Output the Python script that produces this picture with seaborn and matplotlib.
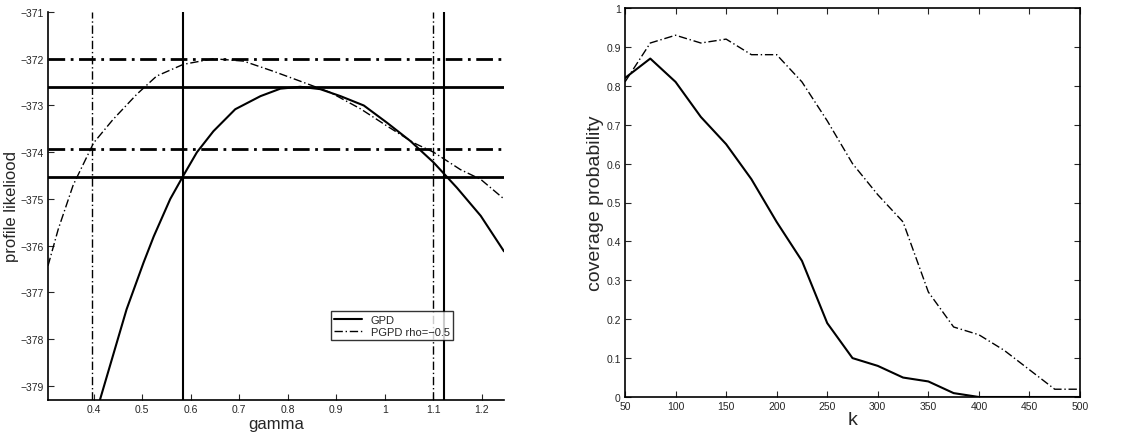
import matplotlib
matplotlib.use("Agg")
import matplotlib.pyplot as plt
import seaborn as sns

# left panel: profile likelihood
gpd_gamma = [0.413, 0.468, 0.503, 0.524, 0.558, 0.585, 0.613, 0.647, 0.692, 0.744, 0.785, 0.826,
             0.867, 0.909, 0.957, 1.005, 1.053, 1.101, 1.149, 1.198, 1.246]
gpd_lik = [-379.3, -377.36, -376.36, -375.8, -375.0, -374.5, -374.0, -373.55, -373.08, -372.8, -372.64,
           -372.6, -372.65, -372.8, -373.0, -373.37, -373.76, -374.22, -374.76, -375.36, -376.12]
pgpd_gamma = [0.306, 0.327, 0.358, 0.40, 0.44, 0.489, 0.53, 0.585, 0.647, 0.709, 0.771, 0.826,
              0.888, 0.95, 1.005, 1.06, 1.101, 1.156, 1.198, 1.246]
pgpd_lik = [-376.43, -375.65, -374.7, -373.8, -373.3, -372.76, -372.37, -372.12, -372.0, -372.05,
            -372.27, -372.48, -372.72, -373.07, -373.44, -373.8, -374.0, -374.37, -374.58, -375.0]
gpd_levels = [-372.6, -374.52]
pgpd_levels = [-372.0, -373.94]
gpd_ci = [0.584, 1.123]
pgpd_ci = [0.397, 1.10]

# right panel: coverage probability
k = [50, 75, 100, 125, 150, 175, 200, 225, 250, 275, 300, 325, 350, 375, 400, 425, 450, 475, 500]
cov_gpd = [0.82, 0.87, 0.81, 0.72, 0.65, 0.56, 0.45, 0.35, 0.19, 0.10, 0.08, 0.05, 0.04, 0.01, 0.0,
           0.0, 0.0, 0.0, 0.0]
cov_pgpd = [0.81, 0.91, 0.93, 0.91, 0.92, 0.88, 0.88, 0.81, 0.71, 0.60, 0.52, 0.45, 0.27, 0.18, 0.16,
            0.12, 0.07, 0.02, 0.02]

sns.set_style("white")
plt.rcParams['font.family'] = ['Liberation Sans', 'DejaVu Sans']

fig = plt.figure(figsize=(11.35, 4.39), dpi=100)
ax1 = fig.add_axes([48 / 1135, 38 / 439, 456 / 1135, 388 / 439])
ax2 = fig.add_axes([625 / 1135, 41 / 439, 455 / 1135, 389 / 439])

dash = (0, (6, 2, 1, 2))
sns.lineplot(x=gpd_gamma, y=gpd_lik, ax=ax1, color="black", lw=1.5, label="GPD", sort=False)
sns.lineplot(x=pgpd_gamma, y=pgpd_lik, ax=ax1, color="black", lw=1.0, linestyle=dash,
             label="PGPD rho=\u22120.5", sort=False)
for v in gpd_levels:
    ax1.axhline(v, color="black", lw=2)
for v in pgpd_levels:
    ax1.axhline(v, color="black", lw=2, linestyle=dash)
for v in gpd_ci:
    ax1.axvline(v, color="black", lw=1.5)
for v in pgpd_ci:
    ax1.axvline(v, color="black", lw=1.0, linestyle=dash)
ax1.set_xlim(0.306, 1.246)
ax1.set_ylim(-379.3, -371)
ax1.set_xticks([0.4, 0.5, 0.6, 0.7, 0.8, 0.9, 1, 1.1, 1.2])
ax1.set_xticklabels(["0.4", "0.5", "0.6", "0.7", "0.8", "0.9", "1", "1.1", "1.2"])
ax1.set_yticks(range(-379, -370))
ax1.set_yticklabels([f"\u2212{abs(v)}" for v in range(-379, -370)])
ax1.spines["top"].set_visible(False)
ax1.spines["right"].set_visible(False)
ax1.set_xlabel("gamma", fontsize=12, labelpad=1)
ax1.set_ylabel("profile likeliood", fontsize=12, labelpad=1)
leg = ax1.legend(loc="lower right", bbox_to_anchor=(0.9, 0.14), fontsize=8, frameon=True,
                 fancybox=False, borderpad=0.3, handlelength=2.5, labelspacing=0.2)
leg.get_frame().set_edgecolor("black")

sns.lineplot(x=k, y=cov_gpd, ax=ax2, color="black", lw=1.5)
sns.lineplot(x=k, y=cov_pgpd, ax=ax2, color="black", lw=1.0, linestyle=dash)
ax2.set_xlim(50, 500)
ax2.set_ylim(0, 1)
ax2.set_xticks(range(50, 501, 50))
ax2.set_yticks([i / 10 for i in range(11)])
ax2.set_yticklabels(["0"] + [f"0.{i}" for i in range(1, 10)] + ["1"])
ax2.set_xlabel("k", fontsize=14, labelpad=0)
ax2.set_ylabel("coverage probability", fontsize=14, labelpad=2)

for ax in (ax1, ax2):
    ax.tick_params(direction="in", length=4, labelsize=7.5, width=0.8, pad=3)
    for s in ax.spines.values():
        s.set_color("black")
        s.set_linewidth(1.2)
ax2.tick_params(right=True, top=True, bottom=True, left=True)
ax1.tick_params(bottom=True, left=True)

fig.savefig("out.png", dpi=100)
